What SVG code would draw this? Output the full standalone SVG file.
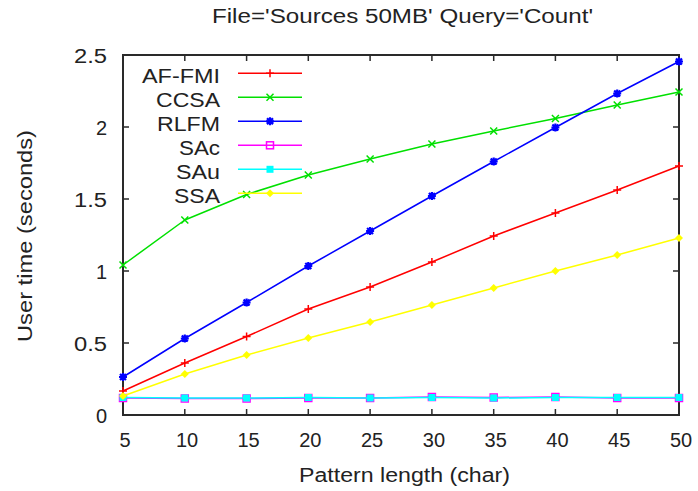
<svg xmlns="http://www.w3.org/2000/svg" width="698" height="491" viewBox="0 0 698 491">
<style>
text{font-family:"Liberation Sans",Arial,Helvetica,sans-serif;font-size:20px;fill:#222}
.frame{fill:none;stroke:#2a2a2a;stroke-width:2}
.tick{stroke:#2a2a2a;stroke-width:1.5}
.ln{fill:none;stroke-width:1.5;stroke-linejoin:round}
.r{stroke:#ff0000}.g{stroke:#00e000}.b{stroke:#0000ff}.m{stroke:#ff00ff}.c{stroke:#00ffff}.y{stroke:#ffff00}
</style>
<defs>
<path id="pPlus" d="M-4,0H4M0,-4V4" fill="none" stroke="#ff0000" stroke-width="1.5"/>
<path id="pCross" d="M-3.5,-3.5L3.5,3.5M-3.5,3.5L3.5,-3.5" fill="none" stroke="#00e000" stroke-width="1.5"/>
<path id="pStar" d="M-4,0H4M0,-4V4M-3,-3L3,3M-3,3L3,-3" fill="none" stroke="#0000ff" stroke-width="2.2"/>
<rect id="pBox" x="-3.5" y="-3.5" width="7" height="7" fill="none" stroke="#ff00ff" stroke-width="1.5"/>
<rect id="pBoxF" x="-3.5" y="-3.5" width="7" height="7" fill="#00ffff"/>
<path id="pDia" d="M0,-4L4,0L0,4L-4,0Z" fill="#ffff00"/>
</defs>
<rect width="698" height="491" fill="#ffffff"/>
<g id="title"><text x="212" y="23" font-size="18" textLength="381" lengthAdjust="spacingAndGlyphs">File='Sources 50MB' Query='Count'</text></g>
<g id="axes">
<rect class="frame" x="123" y="55" width="556" height="360"/>
<path class="tick" d="M123,127h6M123,199h6M123,271h6M123,343h6M679,127h-6M679,199h-6M679,271h-6M679,343h-6
M184.8,415v-6M246.6,415v-6M308.3,415v-6M370.1,415v-6M431.9,415v-6M493.7,415v-6M555.4,415v-6M617.2,415v-6
M184.8,55v6M246.6,55v6M308.3,55v6M370.1,55v6M431.9,55v6M493.7,55v6M555.4,55v6M617.2,55v6"/>
<g text-anchor="end">
<text x="107" y="423">0</text>
<text x="107" y="351" textLength="33" lengthAdjust="spacingAndGlyphs">0.5</text>
<text x="107" y="279">1</text>
<text x="107" y="207" textLength="33" lengthAdjust="spacingAndGlyphs">1.5</text>
<text x="107" y="135">2</text>
<text x="107" y="63" textLength="33" lengthAdjust="spacingAndGlyphs">2.5</text>
</g>
<g text-anchor="middle">
<text x="125" y="447">5</text>
<text x="187" y="447">10</text>
<text x="248.6" y="447">15</text>
<text x="310.3" y="447">20</text>
<text x="372.1" y="447">25</text>
<text x="433.9" y="447">30</text>
<text x="495.7" y="447">35</text>
<text x="557.4" y="447">40</text>
<text x="619.2" y="447">45</text>
<text x="681" y="447">50</text>
</g>
<text x="299" y="482" textLength="211" lengthAdjust="spacingAndGlyphs">Pattern length (char)</text>
<text transform="translate(32,236) rotate(-90)" text-anchor="middle" textLength="212" lengthAdjust="spacingAndGlyphs">User time (seconds)</text>
</g>
<g id="series">
<g id="AF-FMI">
<polyline class="ln r" points="123,391 184.8,363 246.6,336.5 308.3,309 370.1,287 431.9,262 493.7,236 555.4,213 617.2,190 679,166"/>
<use href="#pPlus" x="123" y="391"/><use href="#pPlus" x="184.8" y="363"/><use href="#pPlus" x="246.6" y="336.5"/><use href="#pPlus" x="308.3" y="309"/><use href="#pPlus" x="370.1" y="287"/><use href="#pPlus" x="431.9" y="262"/><use href="#pPlus" x="493.7" y="236"/><use href="#pPlus" x="555.4" y="213"/><use href="#pPlus" x="617.2" y="190"/><use href="#pPlus" x="679" y="166"/>
</g>
<g id="CCSA">
<polyline class="ln g" points="123,265 184.8,220 246.6,194.5 308.3,175 370.1,159 431.9,144 493.7,131 555.4,118.5 617.2,105 679,92"/>
<use href="#pCross" x="123" y="265"/><use href="#pCross" x="184.8" y="220"/><use href="#pCross" x="246.6" y="194.5"/><use href="#pCross" x="308.3" y="175"/><use href="#pCross" x="370.1" y="159"/><use href="#pCross" x="431.9" y="144"/><use href="#pCross" x="493.7" y="131"/><use href="#pCross" x="555.4" y="118.5"/><use href="#pCross" x="617.2" y="105"/><use href="#pCross" x="679" y="92"/>
</g>
<g id="RLFM">
<polyline class="ln b" points="123,377 184.8,338.5 246.6,302.5 308.3,266 370.1,231 431.9,196 493.7,161.5 555.4,127.5 617.2,93.5 679,61.5"/>
<use href="#pStar" x="123" y="377"/><use href="#pStar" x="184.8" y="338.5"/><use href="#pStar" x="246.6" y="302.5"/><use href="#pStar" x="308.3" y="266"/><use href="#pStar" x="370.1" y="231"/><use href="#pStar" x="431.9" y="196"/><use href="#pStar" x="493.7" y="161.5"/><use href="#pStar" x="555.4" y="127.5"/><use href="#pStar" x="617.2" y="93.5"/><use href="#pStar" x="679" y="61.5"/>
</g>
<g id="SAc">
<polyline class="ln m" points="123,398 184.8,398.5 246.6,398.5 308.3,398 370.1,398 431.9,397 493.7,397.5 555.4,397 617.2,398 679,398"/>
<use href="#pBox" x="123" y="398"/><use href="#pBox" x="184.8" y="398.5"/><use href="#pBox" x="246.6" y="398.5"/><use href="#pBox" x="308.3" y="398"/><use href="#pBox" x="370.1" y="398"/><use href="#pBox" x="431.9" y="397"/><use href="#pBox" x="493.7" y="397.5"/><use href="#pBox" x="555.4" y="397"/><use href="#pBox" x="617.2" y="398"/><use href="#pBox" x="679" y="398"/>
</g>
<g id="SAu">
<polyline class="ln c" points="123,397.5 184.8,398 246.6,398 308.3,397.5 370.1,398 431.9,397.5 493.7,398 555.4,397.5 617.2,397.5 679,397.5"/>
<use href="#pBoxF" x="123" y="397.5"/><use href="#pBoxF" x="184.8" y="398"/><use href="#pBoxF" x="246.6" y="398"/><use href="#pBoxF" x="308.3" y="397.5"/><use href="#pBoxF" x="370.1" y="398"/><use href="#pBoxF" x="431.9" y="397.5"/><use href="#pBoxF" x="493.7" y="398"/><use href="#pBoxF" x="555.4" y="397.5"/><use href="#pBoxF" x="617.2" y="397.5"/><use href="#pBoxF" x="679" y="397.5"/>
</g>
<g id="SSA">
<polyline class="ln y" points="123,396 184.8,374 246.6,355 308.3,338 370.1,322 431.9,305 493.7,288 555.4,271 617.2,255 679,238"/>
<use href="#pDia" x="123" y="396"/><use href="#pDia" x="184.8" y="374"/><use href="#pDia" x="246.6" y="355"/><use href="#pDia" x="308.3" y="338"/><use href="#pDia" x="370.1" y="322"/><use href="#pDia" x="431.9" y="305"/><use href="#pDia" x="493.7" y="288"/><use href="#pDia" x="555.4" y="271"/><use href="#pDia" x="617.2" y="255"/><use href="#pDia" x="679" y="238"/>
</g>
</g>
<g id="legend" text-anchor="end">
<text x="220" y="82.7" textLength="78" lengthAdjust="spacingAndGlyphs">AF-FMI</text>
<line class="ln r" x1="238" y1="73.3" x2="302" y2="73.3"/><use href="#pPlus" x="270" y="73.3"/>
<text x="220" y="106.7" textLength="64" lengthAdjust="spacingAndGlyphs">CCSA</text>
<line class="ln g" x1="238" y1="97.3" x2="302" y2="97.3"/><use href="#pCross" x="270" y="97.3"/>
<text x="220" y="130.7" textLength="63" lengthAdjust="spacingAndGlyphs">RLFM</text>
<line class="ln b" x1="238" y1="121.3" x2="302" y2="121.3"/><use href="#pStar" x="270" y="121.3"/>
<text x="220" y="154.7" textLength="41" lengthAdjust="spacingAndGlyphs">SAc</text>
<line class="ln m" x1="238" y1="145.3" x2="302" y2="145.3"/><use href="#pBox" x="270" y="145.3"/>
<text x="220" y="178.7" textLength="44" lengthAdjust="spacingAndGlyphs">SAu</text>
<line class="ln c" x1="238" y1="169.3" x2="302" y2="169.3"/><use href="#pBoxF" x="270" y="169.3"/>
<text x="220" y="202.7" textLength="46" lengthAdjust="spacingAndGlyphs">SSA</text>
<line class="ln y" x1="238" y1="193.3" x2="302" y2="193.3"/><use href="#pDia" x="270" y="193.3"/>
</g>
</svg>
